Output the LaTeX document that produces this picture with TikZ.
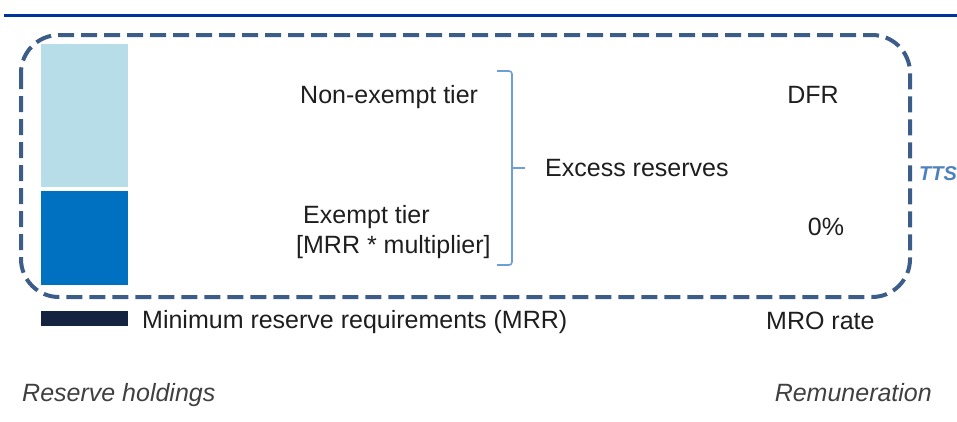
\documentclass[tikz,border=0pt]{standalone}
\usepackage{fontspec}
\setmainfont{Liberation Sans}
\usepackage{xcolor}
\usepackage{tikz}
\usetikzlibrary{positioning}

\definecolor{rulecol}{RGB}{0,52,154}
\definecolor{dashcol}{RGB}{60,93,138}
\definecolor{lightbar}{RGB}{183,221,232}
\definecolor{darkbar}{RGB}{0,112,192}
\definecolor{navybar}{RGB}{20,36,64}
\definecolor{bracecol}{RGB}{110,158,214}
\definecolor{ttscol}{RGB}{79,129,189}
\definecolor{txtcol}{RGB}{30,30,30}
\definecolor{greytxt}{RGB}{64,64,64}

\begin{document}
\begin{tikzpicture}[x=1pt, y=-1pt,
    lbl/.style={inner sep=0pt, text=txtcol, font=\fontsize{25}{30}\selectfont},
    axislbl/.style={inner sep=0pt, text=greytxt, font=\fontsize{25}{30}\selectfont\itshape}]
    \useasboundingbox (0,0) rectangle (957,421);

    % Top rule
    \draw[rulecol, line width=3pt] (4,15) -- (957,15);

    % Dashed frame (TTS)
    \draw[dashcol, line width=4pt, dash pattern=on 16pt off 7pt, rounded corners=38pt]
        (21,35) rectangle (910,297);

    % Bars
    \fill[lightbar] (41,44) rectangle (128,187);
    \fill[darkbar] (41,191) rectangle (128,285);
    \fill[navybar] (41,311) rectangle (128,326);

    % Tier labels
    \node (nonexempt) [lbl, anchor=base west] at (300,103) {Non-exempt tier};
    \node (exempt) [lbl, anchor=base west] at (303,223) {Exempt tier};
    \node (mult) [lbl, anchor=base west] at (296,253) {[MRR * multiplier]};

    % Brace
    \coordinate (btop) at (497,71);
    \coordinate (bmid) at (512,168);
    \coordinate (bbot) at (497,265);
    \coordinate (btip) at (525,168);
    \draw[bracecol, line width=1.6pt, rounded corners=3pt]
        (btop) -- (512,71) -- (bmid) -- (512,265) -- (bbot);
    \draw[bracecol, line width=1.6pt] (bmid) -- (btip);
    \node (excess) [lbl, anchor=base west] at (545,176) {Excess reserves};

    % Rates
    \node (dfr) [lbl, anchor=base] at (813,103) {DFR};
    \node (zero) [lbl, anchor=base] at (826,235) {0\%};
    \node (tts) [inner sep=0pt, anchor=base west, text=ttscol,
        font=\fontsize{20}{24}\selectfont\bfseries\itshape] at (919,180) {TTS};

    % Minimum reserve requirements
    \node (mrr) [lbl, anchor=base west] at (142,328) {Minimum reserve requirements (MRR)};
    \node (mro) [lbl, anchor=base west] at (766,329) {MRO rate};

    % Axis captions
    \node (holdings) [axislbl, anchor=base west] at (22,401) {Reserve holdings};
    \node (remun) [axislbl, anchor=base east] at (932,401) {Remuneration};
\end{tikzpicture}
\end{document}
